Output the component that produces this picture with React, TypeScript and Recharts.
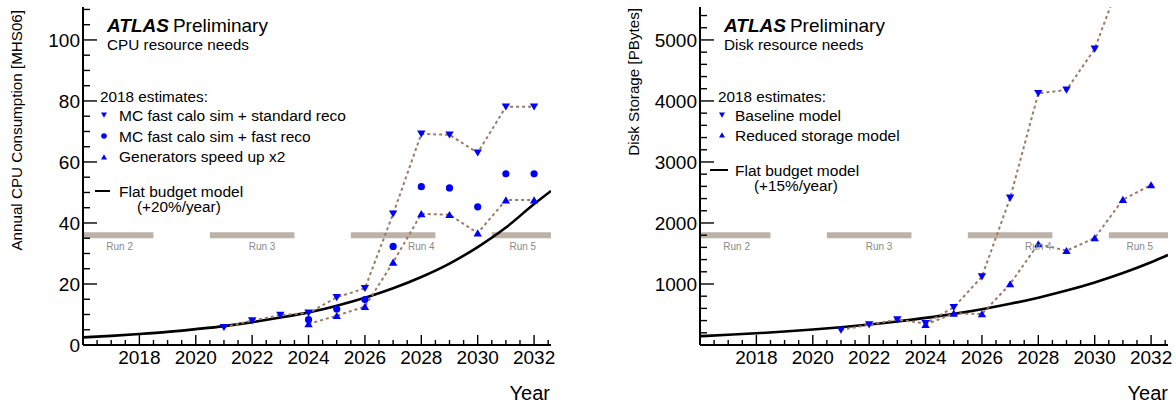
import React from 'react';
import {
  ComposedChart, Line, XAxis, YAxis, ReferenceArea, ReferenceDot,
} from 'recharts';

// years and values
const cpuYears = [2021, 2022, 2023, 2024, 2025, 2026, 2027, 2028, 2029, 2030, 2031, 2032];
const cpuStdReco = [5.8, 8.0, 9.8, 10.5, 15.6, 18.6, 43.0, 69.2, 68.9, 63.0, 78.1, 78.1];
const cpuLaterYears = [2024, 2025, 2026, 2027, 2028, 2029, 2030, 2031, 2032];
const cpuFastReco = [8.3, 11.8, 14.9, 32.3, 51.9, 51.5, 45.3, 56.1, 56.1];
const cpuGenSpeedUp = [6.9, 9.6, 12.6, 27.1, 43.0, 42.7, 36.7, 47.5, 47.5];

const budgetYears = [2016, 2017, 2018, 2019, 2020, 2021, 2022, 2023, 2024, 2025, 2026, 2027, 2028, 2029, 2030, 2031, 2032, 2032.6];
const cpuBudget = [2.5, 3.0, 3.6, 4.3, 5.2, 6.2, 7.5, 9.0, 10.7, 12.9, 15.5, 18.6, 22.3, 26.7, 32.1, 38.5, 46.2, 50.5];

const diskYears = [2021, 2022, 2023, 2024, 2025, 2026, 2027, 2028, 2029, 2030, 2031, 2032];
const diskBaseline = [246, 333, 415, 354, 616, 1120, 2410, 4125, 4180, 4852, 6100, 6300];
const diskLaterYears = [2024, 2025, 2026, 2027, 2028, 2029, 2030, 2031, 2032];
const diskReduced = [333, 518, 508, 1000, 1656, 1546, 1754, 2383, 2623];
const diskBudget = [145, 167, 192, 221, 254, 292, 335, 385, 444, 510, 587, 675, 776, 892, 1026, 1180, 1357, 1475];

// LHC runs
const runNames = ['Run 2', 'Run 3', 'Run 4', 'Run 5'];
const runStart = [2016, 2020.5, 2025.5, 2030.5];
const runEnd = [2018.5, 2023.5, 2028.5, 2032.6];
const runLabelYear = [2017.3, 2022.35, 2028.0, 2031.6];

const xDomain: [number, number] = [2016, 2032.6];
const xTicks = Array.from({ length: 33 }, (_, i) => 2016.5 + i * 0.5);
const cpuTicks = Array.from({ length: 23 }, (_, i) => i * 5);
const diskTicks = Array.from({ length: 28 }, (_, i) => i * 200);

const zip = (xs: number[], ys: number[]) => xs.map((x, i) => ({ x, y: ys[i] }));

const FONT = '"Liberation Sans", Arial, Helvetica, sans-serif';
const BLUE = '#0000ff';
const DOTTED = '#9b7b68';
const RUNBAR = '#bcb2a8';

const DownTri = ({ cx, cy, s = 4.2 }: any) => (
  <path d={`M${cx - s},${cy - s * 0.8} L${cx + s},${cy - s * 0.8} L${cx},${cy + s * 0.9} Z`} fill={BLUE} />
);
const UpTri = ({ cx, cy, s = 4.2 }: any) => (
  <path d={`M${cx - s},${cy + s * 0.8} L${cx + s},${cy + s * 0.8} L${cx},${cy - s * 0.9} Z`} fill={BLUE} />
);

const XTick = (props: any) => {
  const { x, y, payload, top } = props;
  const v = payload.value;
  const major = Math.abs(v % 2) < 1e-6;
  const len = major ? 10 : 5;
  return (
    <g>
      <line x1={x} x2={x} y1={y} y2={top ? y + len : y - len} stroke="#000" strokeWidth={1.4} />
      {!top && major && (
        <text x={x} y={y + 19} textAnchor="middle" fontSize={19} fontFamily={FONT} fill="#000">{v}</text>
      )}
    </g>
  );
};

const YTick = (props: any) => {
  const { x, y, payload, right, majorStep, hideZero } = props;
  const v = payload.value;
  const major = v % majorStep === 0;
  const len = major ? 14 : 7;
  return (
    <g>
      <line x1={x} x2={right ? x - len : x + len} y1={y} y2={y} stroke="#000" strokeWidth={1.4} />
      {!right && major && !(hideZero && v === 0) && (
        <text x={x - 3} y={y} dy="0.36em" textAnchor="end" fontSize={19} fontFamily={FONT} fill="#000">{v}</text>
      )}
    </g>
  );
};

interface PanelProps {
  yMax: number;
  yTicks: number[];
  majorStep: number;
  hideZero: boolean;
  runY: [number, number];
  runLabelY: number;
  marginLeft: number;
  marginRight: number;
  children: React.ReactNode;
}

const Panel: React.FC<PanelProps> = ({ yMax, yTicks, majorStep, hideZero, runY, runLabelY, marginLeft, marginRight, children }) => (
  <ComposedChart
    width={588}
    height={406}
    margin={{ top: 7, right: marginRight, bottom: 31, left: marginLeft }}
  >
    <XAxis
      xAxisId={0}
      type="number"
      dataKey="x"
      domain={xDomain}
      allowDataOverflow
      ticks={xTicks}
      interval={0}
      height={30}
      tickSize={0}
      tickMargin={0}
      tickLine={false}
      axisLine={{ stroke: '#000', strokeWidth: 2 }}
      tick={(p: any) => <XTick {...p} />}
    />
    <XAxis
      xAxisId="top"
      orientation="top"
      type="number"
      domain={xDomain}
      allowDataOverflow
      ticks={xTicks}
      interval={0}
      height={0}
      tickSize={0}
      tickMargin={0}
      tickLine={false}
      axisLine={{ stroke: '#000', strokeWidth: 2 }}
      tick={(p: any) => <XTick {...p} top />}
    />
    <YAxis
      yAxisId={0}
      type="number"
      domain={[0, yMax]}
      allowDataOverflow
      ticks={yTicks}
      interval={0}
      width={60}
      tickSize={0}
      tickMargin={0}
      tickLine={false}
      axisLine={{ stroke: '#000', strokeWidth: 2 }}
      tick={(p: any) => <YTick {...p} majorStep={majorStep} hideZero={hideZero} />}
    />
    <YAxis
      yAxisId="right"
      orientation="right"
      type="number"
      domain={[0, yMax]}
      allowDataOverflow
      ticks={yTicks}
      interval={0}
      width={0}
      tickSize={0}
      tickMargin={0}
      tickLine={false}
      axisLine={{ stroke: '#000', strokeWidth: 2 }}
      tick={(p: any) => <YTick {...p} right majorStep={majorStep} />}
    />
    {runNames.map((name, i) => (
      <ReferenceArea
        key={name}
        x1={runStart[i]}
        x2={runEnd[i]}
        y1={runY[0]}
        y2={runY[1]}
        fill={RUNBAR}
        fillOpacity={1}
        stroke="none"
        ifOverflow="visible"
      />
    ))}
    {runNames.map((name, i) => (
      <ReferenceDot
        key={'l' + name}
        x={runLabelYear[i]}
        y={runLabelY}
        r={0}
        fill="none"
        stroke="none"
        label={{ value: name, position: 'center', fill: '#8a8a8a', fontSize: 10, fontFamily: FONT }}
      />
    ))}
    {children}
  </ComposedChart>
);

const dotted = { stroke: DOTTED, strokeWidth: 2, strokeDasharray: '3 3' };

export default function App() {
  return (
    <div style={{ position: 'absolute', left: 0, top: 0, width: 1176, height: 406, background: '#fff', fontFamily: FONT }}>
      <div style={{ position: 'absolute', left: 0, top: 0 }}>
        <Panel yMax={110.8} yTicks={cpuTicks} majorStep={20} hideZero={false} runY={[35, 37]} runLabelY={32.3} marginLeft={23} marginRight={37}>
          <Line data={zip(budgetYears, cpuBudget)} dataKey="y" type="monotone" stroke="#000" strokeWidth={2.6} dot={false} isAnimationActive={false} />
          <Line data={zip(cpuLaterYears, cpuGenSpeedUp)} dataKey="y" type="linear" {...dotted} isAnimationActive={false}
            dot={(p: any) => <UpTri key={p.index} cx={p.cx} cy={p.cy} />} />
          <Line data={zip(cpuLaterYears, cpuFastReco)} dataKey="y" type="linear" stroke="none" isAnimationActive={false}
            dot={(p: any) => <circle key={p.index} cx={p.cx} cy={p.cy} r={3.6} fill={BLUE} />} />
          <Line data={zip(cpuYears, cpuStdReco)} dataKey="y" type="linear" {...dotted} isAnimationActive={false}
            dot={(p: any) => <DownTri key={p.index} cx={p.cx} cy={p.cy} />} />
        </Panel>
      </div>
      <div style={{ position: 'absolute', left: 588, top: 0 }}>
        <Panel yMax={5540} yTicks={diskTicks} majorStep={1000} hideZero runY={[1750, 1850]} runLabelY={1616} marginLeft={52} marginRight={8}>
          <Line data={zip(budgetYears, diskBudget)} dataKey="y" type="monotone" stroke="#000" strokeWidth={2.6} dot={false} isAnimationActive={false} />
          <Line data={zip(diskLaterYears, diskReduced)} dataKey="y" type="linear" {...dotted} isAnimationActive={false}
            dot={(p: any) => <UpTri key={p.index} cx={p.cx} cy={p.cy} />} />
          <Line data={zip(diskYears, diskBaseline)} dataKey="y" type="linear" {...dotted} isAnimationActive={false}
            dot={(p: any) => <DownTri key={p.index} cx={p.cx} cy={p.cy} />} />
        </Panel>
      </div>

      {/* titles, legends and axis titles */}
      <svg width={1176} height={406} style={{ position: 'absolute', left: 0, top: 0, pointerEvents: 'none' }} fontFamily={FONT}>
        {/* left panel */}
        <text x={107} y={32} fontSize={19}>
          <tspan fontWeight="bold" fontStyle="italic">ATLAS</tspan>
          <tspan dx={4}>Preliminary</tspan>
        </text>
        <text x={107} y={50} fontSize={15.3}>CPU resource needs</text>
        <text x={100} y={102} fontSize={15.3}>2018 estimates:</text>
        <DownTri cx={104} cy={115} s={3} />
        <text x={119} y={120.5} fontSize={15.5}>MC fast calo sim + standard reco</text>
        <circle cx={104} cy={136} r={2.8} fill={BLUE} />
        <text x={119} y={141.5} fontSize={15.5}>MC fast calo sim + fast reco</text>
        <UpTri cx={104} cy={157} s={3} />
        <text x={119} y={162} fontSize={15.5}>Generators speed up x2</text>
        <line x1={95} x2={110} y1={191} y2={191} stroke="#000" strokeWidth={2} />
        <text x={119} y={196.5} fontSize={15.5}>Flat budget model</text>
        <text x={137} y={212} fontSize={15.3}>(+20%/year)</text>
        <text transform="translate(22,10) rotate(-90)" textAnchor="end" fontSize={15.2}>Annual CPU Consumption [MHS06]</text>
        <text x={550} y={400} textAnchor="end" fontSize={20}>Year</text>

        {/* right panel */}
        <text x={724} y={32} fontSize={19}>
          <tspan fontWeight="bold" fontStyle="italic">ATLAS</tspan>
          <tspan dx={4}>Preliminary</tspan>
        </text>
        <text x={724} y={50} fontSize={15.3}>Disk resource needs</text>
        <text x={718} y={102} fontSize={15.3}>2018 estimates:</text>
        <DownTri cx={722} cy={115} s={3} />
        <text x={735} y={120.5} fontSize={15.5}>Baseline model</text>
        <UpTri cx={722} cy={135} s={3} />
        <text x={735} y={140.5} fontSize={15.5}>Reduced storage model</text>
        <line x1={710} x2={728} y1={170} y2={170} stroke="#000" strokeWidth={2} />
        <text x={735} y={175.5} fontSize={15.5}>Flat budget model</text>
        <text x={754} y={191} fontSize={15.3}>(+15%/year)</text>
        <text transform="translate(639,8) rotate(-90)" textAnchor="end" fontSize={15.2}>Disk Storage [PBytes]</text>
        <text x={1168} y={400} textAnchor="end" fontSize={20}>Year</text>
      </svg>
    </div>
  );
}
